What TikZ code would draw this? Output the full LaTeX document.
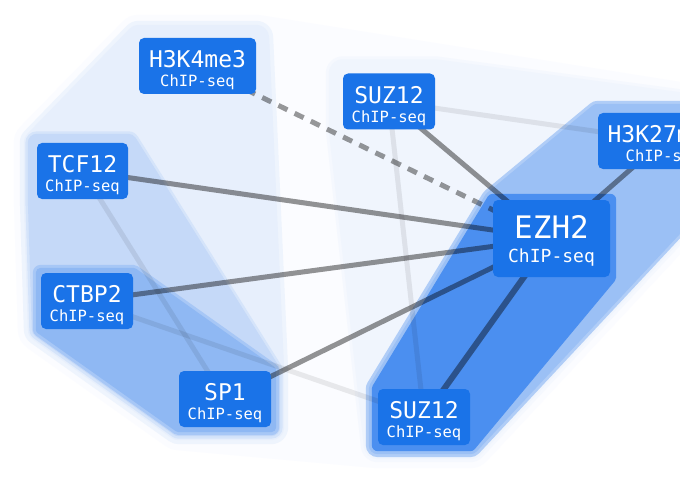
\documentclass[tikz,border=0pt]{standalone}
\usepackage{fontspec}
\newfontfamily\monof{DejaVu Sans Mono}
\definecolor{nodeblue}{HTML}{1A73E8}
\definecolor{hullE}{HTML}{FBFCFF}
\definecolor{rzeroband}{HTML}{F5F8FE}
\definecolor{rzerofill}{HTML}{F0F5FD}
\definecolor{loneband}{HTML}{EEF4FD}
\definecolor{lonefill}{HTML}{E7EFFC}
\definecolor{ltwoband}{HTML}{D5E4FA}
\definecolor{ltwofill}{HTML}{C5D9F8}
\definecolor{lthreeband}{HTML}{A7C7F6}
\definecolor{lthreefill}{HTML}{8FB8F3}
\definecolor{roneband}{HTML}{B0CDF7}
\definecolor{ronefill}{HTML}{9BC0F5}
\definecolor{rtwofill}{HTML}{4B8FF0}
\pgfdeclarelayer{hulls}
\pgfdeclarelayer{edges}
\pgfsetlayers{hulls,edges,main}
\newcommand\mainlbl[1]{{\fontsize{23}{19}\selectfont\rule{0pt}{25.5pt}#1}}
\newcommand\sublbl[1]{{\fontsize{15.5}{19}\selectfont #1}}
\newcommand\bigmainlbl[1]{{\fontsize{31}{24}\selectfont\rule{0pt}{27.5pt}#1}}
\newcommand\bigsublbl[1]{{\fontsize{18}{24}\selectfont #1}}
\tikzset{
  nbox/.style={fill=nodeblue, rounded corners=5pt, inner sep=0pt, text=white,
    align=center, minimum height=56pt, font=\monof\fontsize{15.5}{19}\selectfont},
  strongedge/.style={draw=black, draw opacity=0.42, line width=5pt},
  faintedge/.style={draw=black, draw opacity=0.08, line width=5pt},
  dashedge/.style={strongedge, draw opacity=0.4, dash pattern=on 10pt off 8pt},
  hullpath/.style={line join=round}
}
\begin{document}
\begin{tikzpicture}[x=1pt,y=-1pt]
\useasboundingbox (0,0) rectangle (680,500);
\clip (0,0) rectangle (680,500);

% nodes
\node[nbox, minimum width=117] (h3k4) at (197.5,66) {\mainlbl{H3K4me3}\\\sublbl{ChIP-seq}};
\node[nbox, minimum width=91] (tcf) at (82.5,171) {\mainlbl{TCF12}\\\sublbl{ChIP-seq}};
\node[nbox, minimum width=92] (ctbp) at (87,301) {\mainlbl{CTBP2}\\\sublbl{ChIP-seq}};
\node[nbox, minimum width=92] (sp) at (225,399) {\mainlbl{SP1}\\\sublbl{ChIP-seq}};
\node[nbox, minimum width=92] (suzt) at (389,101.5) {\mainlbl{SUZ12}\\\sublbl{ChIP-seq}};
\node[nbox, minimum width=130] (h3k27) at (663,141) {\mainlbl{H3K27me3}\\\sublbl{ChIP-seq}};
\node[nbox, minimum width=117, minimum height=77, font=\monof\fontsize{18}{24}\selectfont] (ezh) at (551.5,238.5) {\bigmainlbl{EZH2}\\\bigsublbl{ChIP-seq}};
\node[nbox, minimum width=92] (suzb) at (424,417) {\mainlbl{SUZ12}\\\sublbl{ChIP-seq}};

% hulls
\begin{pgfonlayer}{hulls}
\fill[white] (0,0) rectangle (680,500);
\filldraw[hullE, hullpath, line width=46pt] (h3k4.north west) -- (h3k4.north east) -- (h3k27.north east) -- (h3k27.south east) -- (suzb.south east) -- (suzb.south west) -- (sp.south west) -- (ctbp.south west) -- (tcf.south west) -- (tcf.north west) -- cycle;
% right outer
\filldraw[rzeroband, hullpath, line width=34pt] (suzt.north west) -- (suzt.north east) -- (h3k27.north east) -- (h3k27.south east) -- (suzb.south east) -- (suzb.south west) -- (suzt.south west) -- cycle;
\filldraw[rzerofill, hullpath, line width=28pt] (suzt.north west) -- (suzt.north east) -- (h3k27.north east) -- (h3k27.south east) -- (suzb.south east) -- (suzb.south west) -- (suzt.south west) -- cycle;
% left outer
\filldraw[loneband, hullpath, line width=34pt] (h3k4.north west) -- (h3k4.north east) -- (sp.north east) -- (sp.south east) -- (sp.south west) -- (ctbp.south west) -- (tcf.south west) -- (tcf.north west) -- cycle;
\filldraw[lonefill, hullpath, line width=26pt] (h3k4.north west) -- (h3k4.north east) -- (sp.north east) -- (sp.south east) -- (sp.south west) -- (ctbp.south west) -- (tcf.south west) -- (tcf.north west) -- cycle;
% left middle
\filldraw[ltwoband, hullpath, line width=23pt] (tcf.north west) -- (tcf.north east) -- (sp.north east) -- (sp.south east) -- (sp.south west) -- (ctbp.south west) -- (tcf.south west) -- cycle;
\filldraw[ltwofill, hullpath, line width=18pt] (tcf.north west) -- (tcf.north east) -- (sp.north east) -- (sp.south east) -- (sp.south west) -- (ctbp.south west) -- (tcf.south west) -- cycle;
% left inner
\filldraw[lthreeband, hullpath, line width=16pt] (ctbp.north west) -- (ctbp.north east) -- (sp.north east) -- (sp.south east) -- (sp.south west) -- (ctbp.south west) -- cycle;
\filldraw[lthreefill, hullpath, line width=10pt] (ctbp.north west) -- (ctbp.north east) -- (sp.north east) -- (sp.south east) -- (sp.south west) -- (ctbp.south west) -- cycle;
% right middle
\filldraw[roneband, hullpath, line width=24pt] (h3k27.north west) -- (h3k27.north east) -- (h3k27.south east) -- (suzb.south east) -- (suzb.south west) -- (suzb.north west) -- (ezh.north west) -- cycle;
\filldraw[ronefill, hullpath, line width=18pt] (h3k27.north west) -- (h3k27.north east) -- (h3k27.south east) -- (suzb.south east) -- (suzb.south west) -- (suzb.north west) -- (ezh.north west) -- cycle;
% right inner
\filldraw[rtwofill, hullpath, line width=12pt] (ezh.north west) -- (ezh.north east) -- (ezh.south east) -- (suzb.south east) -- (suzb.south west) -- (suzb.north west) -- cycle;
\end{pgfonlayer}

% edges
\begin{pgfonlayer}{edges}
\draw[faintedge] (tcf.center) -- (sp.center);
\draw[faintedge] (ctbp.center) -- (suzb.center);
\draw[faintedge] (suzt.center) -- (suzb.center);
\draw[faintedge] (suzt.center) -- (h3k27.center);
\draw[dashedge] (h3k4.center) -- (ezh.center);
\draw[strongedge] (tcf.center) -- (ezh.center);
\draw[strongedge] (ctbp.center) -- (ezh.center);
\draw[strongedge] (sp.center) -- (ezh.center);
\draw[strongedge] (suzt.center) -- (ezh.center);
\draw[strongedge] (h3k27.center) -- (ezh.center);
\draw[strongedge, line width=6pt] (ezh.center) -- (suzb.center);
\end{pgfonlayer}
\end{tikzpicture}
\end{document}
